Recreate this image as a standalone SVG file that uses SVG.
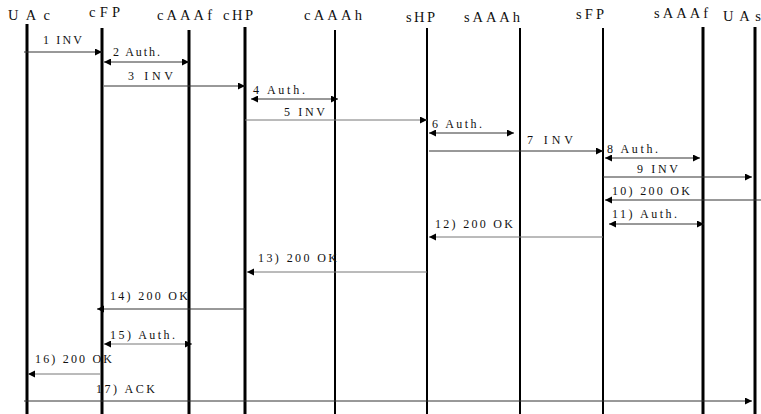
<svg xmlns="http://www.w3.org/2000/svg" width="761" height="414" viewBox="0 0 761 414">
<style>
.hdr{font-family:"Liberation Serif","Times New Roman",serif;font-size:14.5px;fill:#111}
.lbl{font-family:"Liberation Serif","Times New Roman",serif;font-size:12px;fill:#111}
.ll{stroke:#000;fill:none}
.thick{stroke-width:3}
.thin{stroke-width:2}
.msg{stroke:#333;stroke-width:1;fill:none}
.lt{stroke:#777}
</style>
<defs>
<marker id="ah" markerUnits="userSpaceOnUse" markerWidth="8" markerHeight="8" refX="7" refY="3.5" orient="auto">
<path d="M0,0 L7,3.5 L0,7 Z" fill="#000"/>
</marker>
<marker id="as" markerUnits="userSpaceOnUse" markerWidth="8" markerHeight="8" refX="0" refY="3.5" orient="auto">
<path d="M7,0 L0,3.5 L7,7 Z" fill="#000"/>
</marker>
</defs>
<rect width="761" height="414" fill="#fff"/>
<g id="UAc"><line class="ll thick" x1="27" y1="24" x2="27" y2="414"/><text class="hdr" x="8" y="20" textLength="42" lengthAdjust="spacing">UAc</text></g>
<g id="cFP"><line class="ll thick" x1="102" y1="28" x2="102" y2="414"/><text class="hdr" x="89" y="17" textLength="31" lengthAdjust="spacing">cFP</text></g>
<g id="cAAAf"><line class="ll thick" x1="189" y1="30" x2="189" y2="414"/><text class="hdr" x="157" y="20" textLength="55" lengthAdjust="spacing">cAAAf</text></g>
<g id="cHP"><line class="ll thick" x1="245" y1="27" x2="245" y2="414"/><text class="hdr" x="223" y="20" textLength="30" lengthAdjust="spacing">cHP</text></g>
<g id="cAAAh"><line class="ll thin" x1="335" y1="30" x2="335" y2="414"/><text class="hdr" x="304" y="20" textLength="58" lengthAdjust="spacing">cAAAh</text></g>
<g id="sHP"><line class="ll thin" x1="427" y1="28" x2="427" y2="414"/><text class="hdr" x="406" y="22" textLength="29" lengthAdjust="spacing">sHP</text></g>
<g id="sAAAh"><line class="ll thin" x1="520" y1="28" x2="520" y2="414"/><text class="hdr" x="464" y="22" textLength="56" lengthAdjust="spacing">sAAAh</text></g>
<g id="sFP"><line class="ll thin" x1="603" y1="28" x2="603" y2="414"/><text class="hdr" x="576" y="19" textLength="28" lengthAdjust="spacing">sFP</text></g>
<g id="sAAAf"><line class="ll thick" x1="703" y1="27" x2="703" y2="414"/><text class="hdr" x="654" y="18" textLength="54" lengthAdjust="spacing">sAAAf</text></g>
<g id="UAs"><line class="ll thick" x1="755" y1="27" x2="755" y2="414"/><text class="hdr" x="723" y="21" textLength="38" lengthAdjust="spacing">UAs</text></g>
<g id="connectors">
<path class="msg" d="M24,52 H102" marker-end="url(#ah)"/>
<path class="msg" d="M104,62 H189" marker-start="url(#as)" marker-end="url(#ah)"/>
<path class="msg" d="M104,86 H245" marker-end="url(#ah)"/>
<path class="msg" d="M251,99 H338" marker-start="url(#as)" marker-end="url(#ah)"/>
<path class="msg lt" d="M245,120 H427" marker-end="url(#ah)"/>
<path class="msg" d="M429,133 H514" marker-start="url(#as)" marker-end="url(#ah)"/>
<path class="msg" d="M429,151 H603" marker-end="url(#ah)"/>
<path class="msg" d="M605,158 H700" marker-start="url(#as)" marker-end="url(#ah)"/>
<path class="msg" d="M603,177 H752" marker-end="url(#ah)"/>
<path class="msg" d="M761,200 H605" marker-end="url(#ah)"/>
<path class="msg" d="M609,224 H704" marker-start="url(#as)" marker-end="url(#ah)"/>
<path class="msg lt" d="M603,237 H429" marker-end="url(#ah)"/>
<path class="msg lt" d="M427,272 H247" marker-end="url(#ah)"/>
<path class="msg" d="M245,309 H97" marker-end="url(#ah)"/>
<path class="msg lt" d="M104,344 H192" marker-start="url(#as)" marker-end="url(#ah)"/>
<path class="msg lt" d="M100,374 H28" marker-end="url(#ah)"/>
<path class="msg" d="M24,401 H752" marker-end="url(#ah)"/>
<text class="lbl" x="43" y="44" textLength="39" lengthAdjust="spacing">1 INV</text>
<text class="lbl" x="113" y="56" textLength="47" lengthAdjust="spacing">2 Auth.</text>
<text class="lbl" x="128" y="80" textLength="45" lengthAdjust="spacing">3 INV</text>
<text class="lbl" x="253" y="94" textLength="52" lengthAdjust="spacing">4 Auth.</text>
<text class="lbl" x="284" y="116" textLength="41" lengthAdjust="spacing">5 INV</text>
<text class="lbl" x="432" y="128" textLength="50" lengthAdjust="spacing">6 Auth.</text>
<text class="lbl" x="527" y="144" textLength="46" lengthAdjust="spacing">7 INV</text>
<text class="lbl" x="607" y="153" textLength="51" lengthAdjust="spacing">8 Auth.</text>
<text class="lbl" x="637" y="173" textLength="41" lengthAdjust="spacing">9 INV</text>
<text class="lbl" x="612" y="195" textLength="78" lengthAdjust="spacing">10) 200 OK</text>
<text class="lbl" x="612" y="218" textLength="65" lengthAdjust="spacing">11) Auth.</text>
<text class="lbl" x="435" y="228" textLength="78" lengthAdjust="spacing">12) 200 OK</text>
<text class="lbl" x="258" y="262" textLength="79" lengthAdjust="spacing">13) 200 OK</text>
<text class="lbl" x="110" y="300" textLength="78" lengthAdjust="spacing">14) 200 OK</text>
<text class="lbl" x="110" y="339" textLength="65" lengthAdjust="spacing">15) Auth.</text>
<text class="lbl" x="35" y="363" textLength="77" lengthAdjust="spacing">16) 200 OK</text>
<text class="lbl" x="96" y="393" textLength="59" lengthAdjust="spacing">17) ACK</text>
</g>
</svg>
